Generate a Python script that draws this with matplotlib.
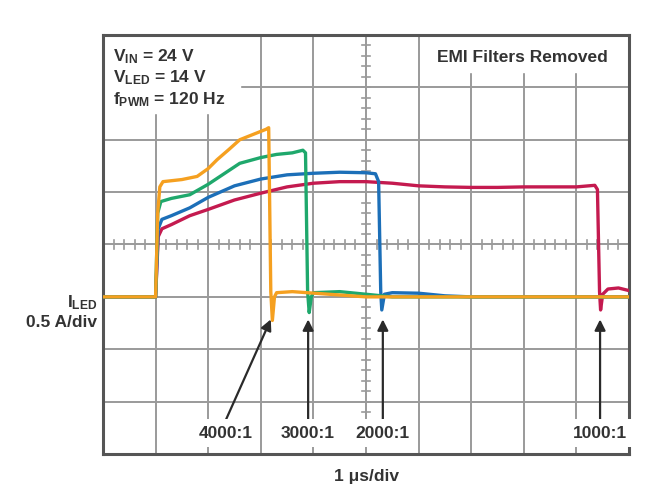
import numpy as np
import matplotlib
matplotlib.use('Agg')
import matplotlib.pyplot as plt
from matplotlib.patches import Rectangle

plt.rcParams['font.family'] = ['Liberation Sans', 'DejaVu Sans']
plt.rcParams['font.weight'] = 'bold'
plt.rcParams['mathtext.fontset'] = 'custom'
plt.rcParams['mathtext.rm'] = 'Liberation Sans:bold'
plt.rcParams['mathtext.it'] = 'Liberation Sans:bold'
plt.rcParams['mathtext.bf'] = 'Liberation Sans:bold'
plt.rcParams['mathtext.default'] = 'rm'

# traces, in screen divisions (x: 1 us/div, y: 0.5 A/div, centre = 0)
red_x = [0, 1.0, 1.05, 1.12, 1.3, 1.65, 2.0, 2.5, 3.0, 3.5, 4.0, 4.5, 5.0, 5.5, 6.0,
         6.5, 7.0, 7.5, 8.0, 8.5, 9.0, 9.35, 9.4, 9.44, 9.46, 9.5, 9.6, 9.8, 10]
red_y = [-1, -1, 0.15, 0.3, 0.38, 0.55, 0.67, 0.85, 0.98, 1.1, 1.17, 1.2, 1.2, 1.17, 1.12,
         1.1, 1.09, 1.09, 1.1, 1.1, 1.1, 1.13, 1.05, -0.9, -1.25, -0.95, -0.85, -0.83, -0.88]

blue_x = [0, 1.0, 1.05, 1.12, 1.3, 1.65, 2.0, 2.5, 3.0, 3.5, 4.0, 4.5, 5.0, 5.18, 5.24,
          5.28, 5.3, 5.35, 5.5, 6.0, 6.5, 7.0, 10]
blue_y = [-1, -1, 0.3, 0.48, 0.55, 0.7, 0.9, 1.12, 1.25, 1.33, 1.36, 1.38, 1.37, 1.35, 1.2,
          -0.9, -1.25, -0.95, -0.92, -0.93, -0.98, -1.0, -1.0]

green_x = [0, 1.0, 1.04, 1.1, 1.3, 1.65, 2.0, 2.3, 2.6, 3.0, 3.3, 3.6, 3.8, 3.85,
           3.89, 3.92, 3.96, 4.0, 4.5, 5.0, 5.5, 10]
green_y = [-1, -1, 0.6, 0.82, 0.88, 0.95, 1.15, 1.35, 1.55, 1.66, 1.72, 1.75, 1.8, 1.75,
           -0.9, -1.3, -1.0, -0.92, -0.9, -0.95, -1.0, -1.0]

orange_x = [0, 1.0, 1.04, 1.08, 1.14, 1.5, 1.79, 2.0, 2.17, 2.4, 2.6, 2.9, 3.1, 3.15,
            3.19, 3.22, 3.26, 3.3, 3.6, 4.3, 5.0, 10]
orange_y = [-1, -1, 0.6, 1.1, 1.2, 1.24, 1.3, 1.45, 1.62, 1.82, 2.0, 2.12, 2.2, 2.23,
            -0.9, -1.45, -1.0, -0.92, -0.9, -0.95, -1.0, -1.0]

ratios = ['4000:1', '3000:1', '2000:1', '1000:1']
tips_x = [3.19, 3.9, 5.32, 9.45]
tails_x = [2.34, 3.9, 5.32, 9.45]

col_red = '#c41a4f'
col_blue = '#1c6fb8'
col_green = '#1fa86c'
col_orange = '#f5a020'
txt = '#333333'

fig = plt.figure(figsize=(6.52, 4.93), dpi=100)
ax = fig.add_axes([103/652, 1-454/493, 526/652, 419/493])
ax.set_xlim(0, 10)
ax.set_ylim(-4, 4)
ax.set_xticks([])
ax.set_yticks([])
for s in ax.spines.values():
    s.set_color('#555555')
    s.set_linewidth(2.2)

# graticule
for i in range(1, 10):
    ax.axvline(i, color='#9a9a9a', lw=1.4, zorder=1)
for j in range(-3, 4):
    ax.axhline(j, color='#9a9a9a', lw=1.4, zorder=1)
for t in np.arange(-4, 4.01, 0.2):
    ax.plot([4.93, 5.07], [t, t], color='#9a9a9a', lw=1.2, zorder=1)
for t in np.arange(0, 10.01, 0.2):
    ax.plot([t, t], [-0.09, 0.09], color='#9a9a9a', lw=1.2, zorder=1)

# white boxes behind the notes
ax.add_patch(Rectangle((0, 2.52), 2.6, 1.48, color='white', zorder=2))
ax.add_patch(Rectangle((6.12, 3.3), 3.88, 0.7, color='white', zorder=2))

ax.plot(red_x, red_y, color=col_red, lw=2.4, zorder=3)
ax.plot(blue_x, blue_y, color=col_blue, lw=2.4, zorder=3)
ax.plot(green_x, green_y, color=col_green, lw=2.4, zorder=3)
ax.plot(orange_x, orange_y, color=col_orange, lw=2.4, zorder=3)

ax.text(0.19, 3.49, r'$V_{IN}$ = 24 V', fontsize=12.5, color=txt, zorder=4)
ax.text(0.19, 3.09, r'$V_{LED}$ = 14 V', fontsize=12.5, color=txt, zorder=4)
ax.text(0.19, 2.67, r'$f_{PWM}$ = 120 Hz', fontsize=12.5, color=txt, zorder=4)
ax.text(6.35, 3.49, 'EMI Filters Removed', fontsize=12.5, color=txt, zorder=4)

for lab, tx, hx in zip(ratios, tips_x, tails_x):
    ax.annotate('', xy=(tx, -1.43), xytext=(hx, -3.34),
                arrowprops=dict(arrowstyle='-|>', color='#2a2a2a', lw=1.6,
                                mutation_scale=16, shrinkA=0, shrinkB=0), zorder=4)
    ax.text(hx, -3.6, lab, fontsize=12.5, color=txt, ha='center', va='center',
            bbox=dict(facecolor='white', edgecolor='none', pad=5), zorder=4)

ax.text(-0.11, -1.2, r'$I_{LED}$', fontsize=12.5, color=txt, ha='right', clip_on=False)
ax.text(-0.11, -1.58, '0.5 A/div', fontsize=12.5, color=txt, ha='right', clip_on=False)
ax.text(5.0, -4.43, '1 μs/div', fontsize=12.5, color=txt, ha='center', va='center',
        clip_on=False)

fig.savefig('out.png', dpi=100)
